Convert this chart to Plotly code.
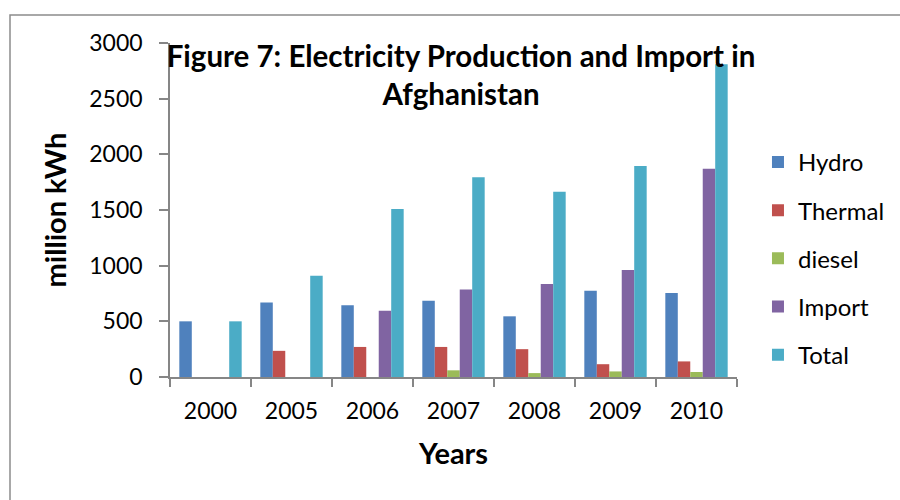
import plotly.graph_objects as go

# Electricity production and import in Afghanistan, million kWh
years = ["2000", "2005", "2006", "2007", "2008", "2009", "2010"]
hydro = [500, 670, 645, 685, 545, 775, 755]
thermal = [0, 235, 270, 270, 250, 115, 140]
diesel = [0, 0, 0, 60, 35, 50, 45]
imports = [0, 0, 595, 785, 835, 960, 1870]
total = [500, 910, 1510, 1795, 1665, 1895, 2810]

series = [
    ("Hydro", hydro, "#4F81BD"),
    ("Thermal", thermal, "#C0504D"),
    ("diesel", diesel, "#9BBB59"),
    ("Import", imports, "#8064A2"),
    ("Total", total, "#4BACC6"),
]

FONT = "Lato"
AXIS_GREY = "#868686"

fig = go.Figure()
for name, vals, color in series:
    fig.add_trace(go.Bar(
        x=years, y=vals, name=name, legendgroup=name,
        marker=dict(color=color, line=dict(width=0)),
    ))

fig.update_layout(
    width=900, height=500,
    margin=dict(l=170, r=163, t=43, b=123, autoexpand=False),
    paper_bgcolor="white", plot_bgcolor="white",
    barmode="group", bargap=0.23, bargroupgap=0,
    font=dict(family=FONT, size=23, color="black"),
    title=dict(
        text="Figure 7: Electricity Production and Import in<br>Afghanistan",
        font=dict(family=FONT, size=29.5, weight=700, color="black"),
        x=461 / 900, xanchor="center", xref="container",
        y=1 - 67 / 500, yanchor="top", yref="container",
    ),
    legend=dict(
        x=1.037, xanchor="left", y=0.71, yanchor="top",
        font=dict(family=FONT, size=24),
        traceorder="grouped", tracegroupgap=14,
        bgcolor="rgba(0,0,0,0)",
    ),
    shapes=[dict(
        type="rect", xref="paper", yref="paper",
        x0=(10 - 170) / 567, x1=(950 - 170) / 567,
        y0=(377 - 550) / 334, y1=(377 - 15) / 334,
        line=dict(color="#8c8c8c", width=1.5), fillcolor="rgba(0,0,0,0)",
        layer="below",
    )],
)

fig.update_xaxes(
    type="category",
    showline=True, linecolor=AXIS_GREY, linewidth=1.5,
    ticks="outside", tickson="boundaries", ticklen=8,
    tickcolor=AXIS_GREY, tickwidth=1.5,
    ticklabelstandoff=13,
    tickfont=dict(family=FONT, size=23),
    showgrid=False,
    title=dict(text="Years", font=dict(family=FONT, size=29, weight=700),
               standoff=20),
)
fig.update_yaxes(
    range=[0, 3000], dtick=500,
    showline=True, linecolor=AXIS_GREY, linewidth=1.5,
    ticks="outside", ticklen=9, tickcolor=AXIS_GREY, tickwidth=1.5,
    ticklabelstandoff=12,
    tickfont=dict(family=FONT, size=23),
    showgrid=False, zeroline=False,
    title=dict(text="million kWh", font=dict(family=FONT, size=29, weight=700),
               standoff=14),
)

fig.write_html("out.html")
